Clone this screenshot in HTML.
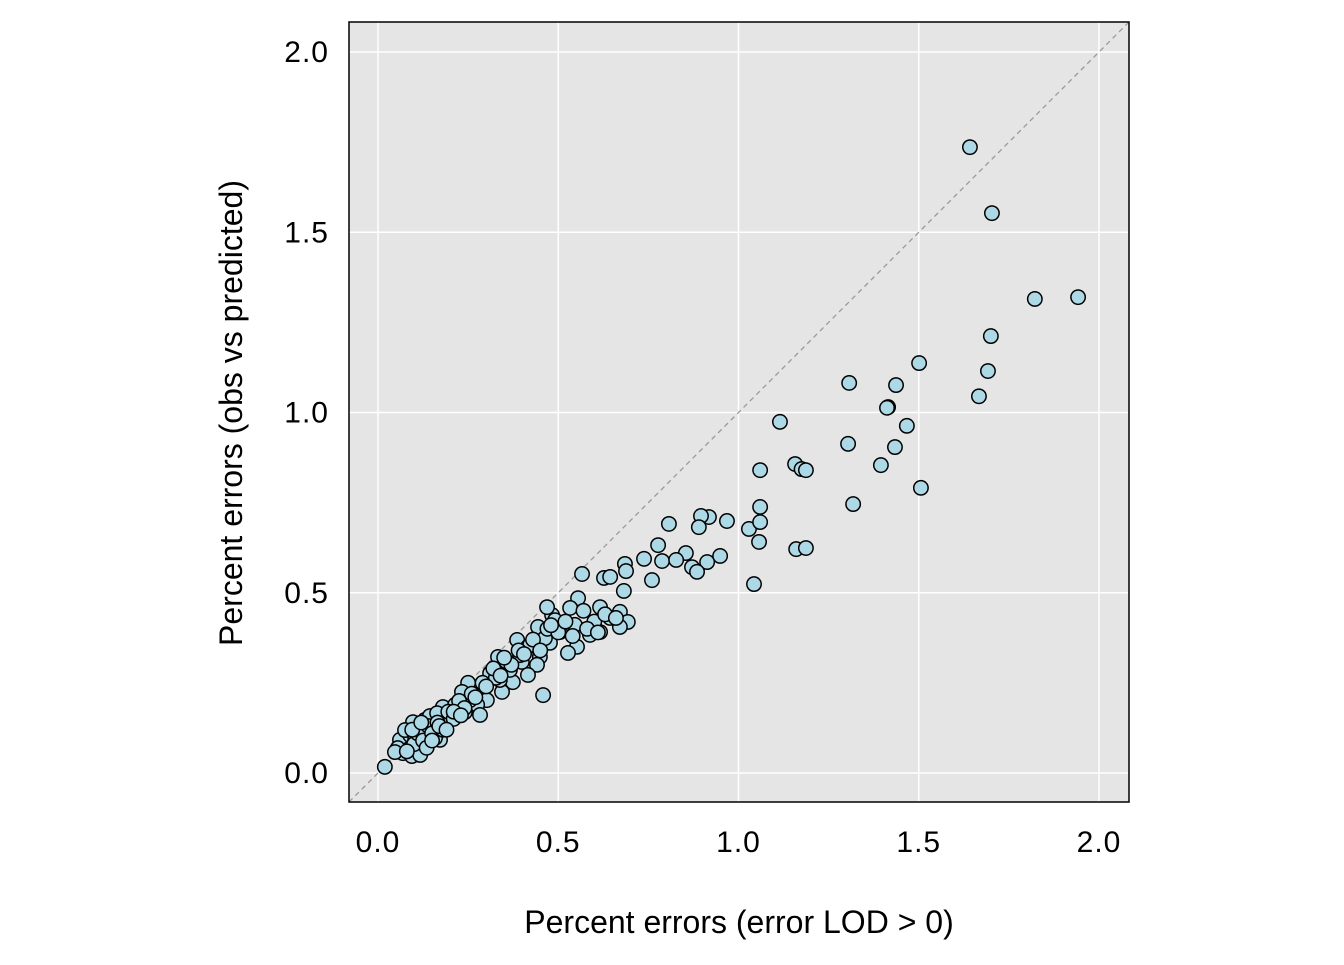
<!DOCTYPE html>
<html><head><meta charset="utf-8"><style>
html,body{margin:0;padding:0;background:#fff;}
svg text{font-family:"Liberation Sans",Arial,sans-serif;fill:#000;}
</style></head><body>
<svg id="chart" width="1344" height="960">
<rect x="349" y="22" width="780" height="780" fill="#e5e5e5"/>
<g id="grid"></g>
<line x1="349" y1="802" x2="1129" y2="22" stroke="#999" stroke-width="1.3" stroke-dasharray="5,4"/>
<g id="points"></g>
<rect x="349" y="22" width="780" height="780" fill="none" stroke="#000" stroke-width="1.5"/>
<g id="axes"></g>
<text x="739" y="933" font-size="32" text-anchor="middle">Percent errors (error LOD &gt; 0)</text>
<text transform="translate(242,413) rotate(-90)" font-size="32" text-anchor="middle">Percent errors (obs vs predicted)</text>
</svg>
<script>
const ticks=[0,0.5,1,1.5,2];
const tickLabels=["0.0","0.5","1.0","1.5","2.0"];
const xVals=[1.642,1.703,1.822,1.942,1.700,1.501,1.692,1.307,1.437,1.667,1.415,1.412,1.115,1.467,1.304,1.434,1.060,1.157,1.175,1.187,1.395,1.506,1.060,1.318,0.918,0.896,0.968,0.807,0.890,1.029,1.060,1.057,1.160,1.187,0.777,0.854,0.949,0.913,0.738,0.788,0.827,0.871,0.885,0.685,0.688,1.043,0.566,0.627,0.644,0.760,0.682,
0.555,0.533,0.616,0.671,0.693,0.671,0.588,0.616,0.519,0.552,0.527,0.477,0.483,0.444,0.469,0.386,0.416,0.449,0.358,0.399,0.441,0.416,0.333,0.374,0.458,0.344,0.311,0.277,0.250,0.302,0.275,0.233,0.241,0.208,0.283,0.180,0.178,0.130,0.097,0.136,0.108,0.080,0.069,0.019,
0.061,0.089,0.117,0.144,0.158,0.186,0.089,0.055,0.200,0.227,0.255,0.117,0.144,0.172,0.075,0.103,0.047,0.214,0.338,0.366,0.394,0.422,0.463,0.505,0.546,0.644,0.491,0.164,0.327,0.130,0.158,0.094,0.117,
0.100,0.110,0.125,0.140,0.150,0.165,0.180,0.195,0.210,0.225,0.240,0.260,0.270,0.290,0.300,0.320,0.340,0.355,0.370,0.390,0.405,0.430,0.450,0.470,0.500,0.520,0.540,0.570,0.600,0.630,0.660,0.080,0.095,0.120,0.135,0.150,0.170,0.190,0.210,0.230,0.350,0.480,0.580,0.610];
const yVals=[1.736,1.553,1.315,1.320,1.212,1.137,1.115,1.082,1.076,1.045,1.015,1.013,0.974,0.963,0.913,0.904,0.840,0.857,0.843,0.840,0.854,0.791,0.738,0.746,0.710,0.713,0.699,0.691,0.682,0.677,0.696,0.641,0.621,0.624,0.632,0.610,0.602,0.585,0.594,0.588,0.591,0.571,0.558,0.580,0.560,0.524,0.552,0.541,0.544,0.535,0.505,
0.485,0.458,0.460,0.447,0.419,0.405,0.383,0.391,0.402,0.350,0.333,0.361,0.438,0.405,0.460,0.369,0.350,0.322,0.300,0.308,0.300,0.272,0.322,0.252,0.216,0.225,0.277,0.239,0.250,0.202,0.189,0.225,0.169,0.155,0.161,0.183,0.119,0.147,0.141,0.100,0.064,0.078,0.055,0.017,
0.092,0.105,0.086,0.105,0.125,0.133,0.069,0.069,0.153,0.175,0.202,0.125,0.158,0.092,0.119,0.092,0.058,0.189,0.258,0.286,0.327,0.355,0.374,0.391,0.411,0.430,0.424,0.166,0.264,0.078,0.097,0.047,0.050,
0.080,0.110,0.090,0.130,0.110,0.140,0.120,0.170,0.150,0.200,0.180,0.220,0.210,0.250,0.240,0.290,0.270,0.310,0.300,0.340,0.330,0.370,0.340,0.400,0.390,0.420,0.380,0.450,0.420,0.440,0.430,0.060,0.120,0.140,0.070,0.090,0.130,0.120,0.170,0.160,0.320,0.410,0.400,0.390];
const X=v=>378+v*360.5, Y=v=>773-v*360.5;
const NS="http://www.w3.org/2000/svg";
const grid=document.getElementById('grid'), axes=document.getElementById('axes'), pts=document.getElementById('points');
function mk(tag,attrs,parent){const e=document.createElementNS(NS,tag);for(const k in attrs)e.setAttribute(k,attrs[k]);parent.appendChild(e);return e;}
ticks.forEach((t,i)=>{
  const gv=mk('line',{x1:X(t),x2:X(t),y1:22,y2:802,stroke:'#fff','stroke-width':1.5},grid);
  
  
  const gh=mk('line',{x1:349,x2:1129,y1:Y(t),y2:Y(t),stroke:'#fff','stroke-width':1.5},grid);
  
  
  const tx=mk('text',{x:X(t),y:852,'font-size':30,'text-anchor':'middle','letter-spacing':1},axes);
  tx.textContent=tickLabels[i];
  
  
  const ty=mk('text',{x:329,y:Y(t)+10,'font-size':30,'text-anchor':'end','letter-spacing':1},axes);
  ty.textContent=tickLabels[i];
  
  
});
xVals.forEach((v,i)=>{
  const c=mk('circle',{cx:X(v),cy:Y(yVals[i]),r:7.2,fill:'#add8e6',stroke:'#000','stroke-width':1.5},pts);
  
  
});
</script>
</body></html>
